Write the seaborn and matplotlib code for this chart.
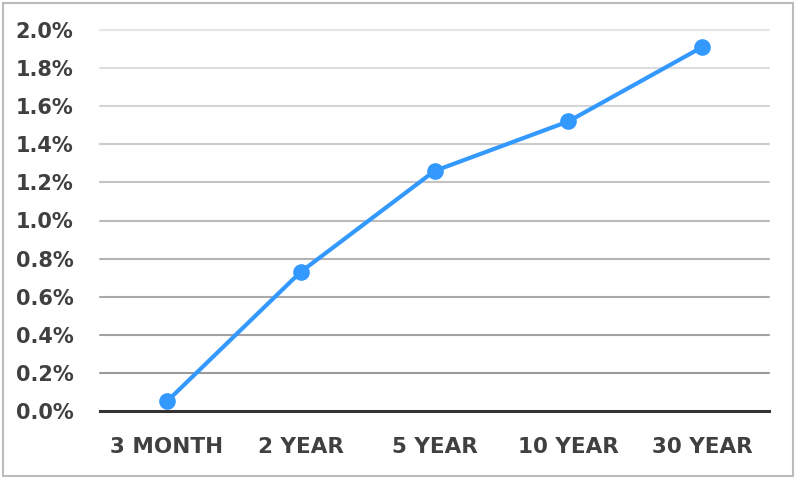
import numpy as np
import pandas as pd
import matplotlib.pyplot as plt
import seaborn as sns
from matplotlib.patches import Rectangle
from matplotlib.ticker import FuncFormatter

# Data
maturities = ['3 MONTH', '2 YEAR', '5 YEAR', '10 YEAR', '30 YEAR']
yields = [0.05, 0.73, 1.26, 1.52, 1.91]
y_ticks = [0.0, 0.2, 0.4, 0.6, 0.8, 1.0, 1.2, 1.4, 1.6, 1.8, 2.0]

df = pd.DataFrame({'maturity': maturities, 'yield': yields})

sns.set_theme(style='white')
plt.rcParams['font.family'] = ['DejaVu Sans']

fig = plt.figure(figsize=(7.98, 4.79), dpi=100)
ax = fig.add_axes([100 / 798, 68 / 479, 669 / 798, 381 / 479])

# gridlines fade from light at top to darker near the baseline
grid_cols = np.linspace(0.60, 0.90, len(y_ticks) - 1)
for t, c in zip(y_ticks[1:], grid_cols):
    ax.axhline(t, color=str(c), lw=1.5, zorder=1, clip_on=False)

sns.lineplot(data=df, x='maturity', y='yield', sort=False, ax=ax,
             color='#3399ff', lw=3, marker='o', markersize=12,
             markeredgewidth=0, zorder=3, clip_on=False)

ax.set_xlim(-0.5, 4.5)
ax.set_ylim(0, 2.0)
ax.set_yticks(y_ticks)
ax.yaxis.set_major_formatter(FuncFormatter(lambda v, p: f'{v:.1f}%'))
ax.set_xlabel('')
ax.set_ylabel('')

for s in ['top', 'right', 'left']:
    ax.spines[s].set_visible(False)
ax.spines['bottom'].set_color('#333333')
ax.spines['bottom'].set_linewidth(2.2)
ax.spines['bottom'].set_zorder(4)

ax.tick_params(axis='y', length=0, labelsize=15, labelcolor='#404040', pad=19)
ax.tick_params(axis='x', length=0, labelsize=15.5, labelcolor='#404040', pad=19)
for lbl in ax.get_xticklabels() + ax.get_yticklabels():
    lbl.set_fontweight('bold')

# outer frame
fig.patches.append(Rectangle((3 / 798, 3 / 479), 790 / 798, 473 / 479,
                             transform=fig.transFigure, fill=False,
                             edgecolor='#bbbbbb', lw=1.5))

fig.savefig('out.png', dpi=100)
